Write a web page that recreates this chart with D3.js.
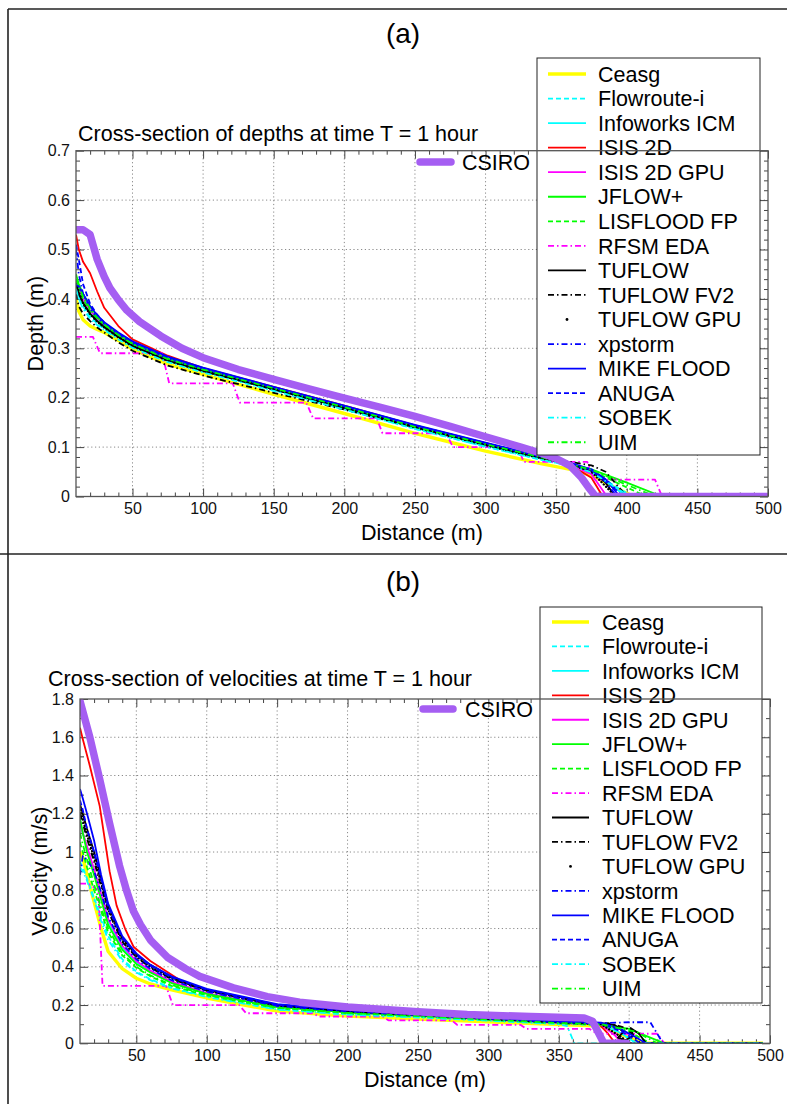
<!DOCTYPE html>
<html><head><meta charset="utf-8">
<script src="https://cdn.jsdelivr.net/npm/d3@7"></script>
<style>
html,body{margin:0;padding:0;background:#fff;}
svg{display:block;font-family:"Liberation Sans",Arial,Helvetica,sans-serif;}
</style></head><body>
<svg id="chart" width="787" height="1104"></svg>
<script>
// ---------------- DATA ----------------
const modelNames = ["Ceasg","Flowroute-i","Infoworks ICM","ISIS 2D","ISIS 2D GPU","JFLOW+","LISFLOOD FP","RFSM EDA","TUFLOW","TUFLOW FV2","TUFLOW GPU","xpstorm","MIKE FLOOD","ANUGA","SOBEK","UIM"];
const refName = "CSIRO";
const distTicks = [50,100,150,200,250,300,350,400,450,500];
const depthTicks = [0,0.1,0.2,0.3,0.4,0.5,0.6,0.7];
const velocityTicks = [0,0.2,0.4,0.6,0.8,1,1.2,1.4,1.6,1.8];

// Depth (m) vs distance (m) at T = 1 hour
const depthCSIRO = [[10,0.54],[15,0.54],[20,0.53],[25,0.48],[30,0.445],[34,0.422],[40,0.398],[46,0.377],[55,0.354],[70,0.325],[85,0.3],[100,0.281],[125,0.257],[150,0.237],[175,0.218],[200,0.199],[225,0.181],[250,0.162],[275,0.142],[300,0.121],[325,0.1],[340,0.087],[350,0.077],[360,0.062],[368,0.038],[373,0.018],[378,0],[500,0]];
const depthCeasg = [[10,0.40],[12,0.375],[15,0.358],[20,0.345],[25,0.338],[30,0.332],[40,0.316],[50,0.298],[75,0.268],[100,0.247],[150,0.207],[200,0.168],[250,0.128],[300,0.092],[340,0.066],[360,0.055],[375,0.043],[390,0.02],[405,0],[500,0]];
const depthFlowroute = [[10,0.43],[12,0.4],[15,0.385],[20,0.365],[25,0.35],[30,0.339],[40,0.32],[50,0.303],[75,0.274],[100,0.253],[150,0.215],[200,0.177],[250,0.137],[300,0.101],[340,0.074],[360,0.062],[375,0.05],[390,0.024],[404,0],[500,0]];
const depthInfoworks = [[10,0.42],[12,0.405],[15,0.39],[20,0.37],[25,0.356],[30,0.344],[40,0.324],[50,0.306],[75,0.276],[100,0.255],[150,0.217],[200,0.179],[250,0.139],[300,0.103],[340,0.076],[360,0.064],[375,0.05],[388,0.025],[400,0],[500,0]];
const depthISIS2D = [[10,0.53],[12,0.5],[15,0.475],[20,0.452],[25,0.415],[30,0.382],[40,0.345],[50,0.318],[75,0.285],[100,0.26],[150,0.222],[200,0.184],[250,0.144],[300,0.108],[340,0.079],[360,0.064],[375,0.038],[383,0],[500,0]];
const depthISIS2DGPU = [[10,0.44],[12,0.42],[15,0.4],[20,0.377],[25,0.36],[30,0.348],[40,0.328],[50,0.31],[75,0.279],[100,0.258],[150,0.22],[200,0.182],[250,0.142],[300,0.106],[340,0.078],[360,0.064],[375,0.045],[386,0],[500,0]];
const depthJFLOW = [[10,0.45],[12,0.43],[15,0.41],[20,0.385],[25,0.365],[30,0.35],[40,0.328],[50,0.31],[75,0.279],[100,0.257],[150,0.219],[200,0.181],[250,0.142],[300,0.106],[340,0.079],[360,0.066],[375,0.055],[400,0.028],[425,0],[500,0]];
const depthLISFLOOD = [[10,0.44],[12,0.42],[15,0.4],[20,0.375],[25,0.358],[30,0.346],[40,0.326],[50,0.308],[75,0.277],[100,0.256],[150,0.218],[200,0.18],[250,0.141],[300,0.105],[340,0.078],[360,0.065],[375,0.053],[395,0.025],[414,0],[500,0]];
const depthRFSM = [[10,0.323],[22,0.323],[27,0.29],[71,0.29],[76,0.229],[121,0.229],[126,0.19],[173,0.19],[178,0.158],[223,0.158],[227,0.128],[272,0.128],[277,0.1],[323,0.1],[327,0.07],[372,0.07],[377,0.034],[420,0.034],[425,0],[500,0]];
const depthTUFLOW = [[10,0.43],[12,0.41],[15,0.392],[20,0.37],[25,0.355],[30,0.343],[40,0.323],[50,0.305],[75,0.275],[100,0.254],[150,0.217],[200,0.18],[250,0.141],[300,0.105],[340,0.078],[360,0.066],[375,0.052],[385,0.028],[392,0],[500,0]];
const depthTUFLOWFV2 = [[10,0.41],[12,0.385],[15,0.37],[20,0.355],[25,0.342],[30,0.332],[40,0.312],[50,0.295],[75,0.265],[100,0.245],[150,0.21],[200,0.176],[250,0.14],[300,0.106],[340,0.08],[360,0.07],[375,0.063],[385,0.05],[400,0],[500,0]];
const depthTUFLOWGPU = [[10,0.43],[15,0.39],[20,0.369],[25,0.354],[30,0.342],[40,0.322],[50,0.304],[75,0.275],[100,0.254],[150,0.217],[200,0.179],[250,0.14],[300,0.104],[340,0.077],[360,0.065],[375,0.05],[392,0],[500,0]];
const depthXpstorm = [[10,0.5],[12,0.45],[15,0.41],[20,0.38],[25,0.362],[30,0.349],[40,0.328],[50,0.31],[75,0.279],[100,0.258],[150,0.22],[200,0.182],[250,0.143],[300,0.107],[340,0.08],[360,0.067],[375,0.053],[385,0.03],[393,0],[500,0]];
const depthMIKE = [[10,0.43],[12,0.425],[15,0.41],[20,0.385],[25,0.367],[30,0.353],[40,0.332],[50,0.314],[75,0.283],[100,0.261],[150,0.222],[200,0.184],[250,0.145],[300,0.109],[340,0.081],[360,0.068],[375,0.055],[385,0.035],[395,0],[500,0]];
const depthANUGA = [[10,0.51],[12,0.48],[15,0.43],[20,0.39],[25,0.368],[30,0.352],[40,0.33],[50,0.312],[75,0.281],[100,0.259],[150,0.221],[200,0.183],[250,0.144],[300,0.108],[340,0.08],[360,0.067],[375,0.054],[387,0.03],[397,0],[500,0]];
const depthSOBEK = [[10,0.42],[12,0.4],[15,0.38],[20,0.36],[25,0.347],[30,0.337],[40,0.318],[50,0.301],[75,0.272],[100,0.251],[150,0.214],[200,0.176],[250,0.137],[300,0.101],[340,0.074],[360,0.062],[375,0.049],[390,0.022],[402,0],[500,0]];
const depthUIM = [[10,0.44],[12,0.425],[15,0.405],[20,0.38],[25,0.362],[30,0.348],[40,0.327],[50,0.309],[75,0.278],[100,0.257],[150,0.219],[200,0.181],[250,0.141],[300,0.106],[340,0.079],[360,0.066],[375,0.054],[398,0.026],[420,0],[500,0]];

// Velocity (m/s) vs distance (m) at T = 1 hour
const velCSIRO = [[10,1.79],[17,1.6],[24,1.38],[31,1.15],[38,0.93],[43,0.8],[48,0.69],[53,0.62],[60,0.54],[72,0.45],[85,0.39],[95,0.35],[119,0.29],[143,0.244],[166,0.215],[200,0.19],[250,0.165],[285,0.15],[330,0.14],[368,0.132],[374,0.115],[382,0],[398,0]];
const velCeasg = [[10,1.0],[12,0.97],[15,0.88],[20,0.74],[25,0.6],[30,0.48],[40,0.39],[50,0.34],[60,0.31],[75,0.28],[100,0.237],[150,0.168],[200,0.142],[250,0.127],[300,0.112],[350,0.098],[380,0.09],[400,0.03],[410,0],[495,0]];
const velFlowroute = [[10,0.95],[12,0.92],[15,0.86],[20,0.76],[25,0.66],[30,0.56],[40,0.44],[50,0.375],[60,0.335],[75,0.29],[100,0.245],[150,0.178],[200,0.152],[250,0.137],[300,0.12],[350,0.102],[380,0.095],[395,0.05],[405,0],[495,0]];
const velInfoworks = [[10,1.15],[12,1.1],[15,1.02],[20,0.9],[25,0.77],[30,0.64],[40,0.5],[50,0.425],[60,0.375],[75,0.318],[100,0.26],[150,0.19],[200,0.162],[250,0.144],[300,0.126],[350,0.107],[380,0.1],[395,0.05],[405,0],[495,0]];
const velISIS2D = [[10,1.65],[12,1.59],[17,1.45],[24,1.24],[31,0.9],[36,0.72],[42,0.6],[48,0.505],[60,0.43],[83,0.32],[100,0.28],[119,0.25],[150,0.2],[200,0.17],[250,0.15],[300,0.13],[350,0.112],[378,0.105],[385,0.05],[390,0],[495,0]];
const velISIS2DGPU = [[10,1.15],[12,1.1],[15,1.03],[20,0.91],[25,0.78],[30,0.65],[40,0.51],[50,0.43],[60,0.38],[75,0.322],[100,0.262],[150,0.19],[200,0.162],[250,0.143],[300,0.124],[350,0.106],[380,0.098],[390,0.04],[395,0],[495,0]];
const velJFLOW = [[10,1.18],[12,1.1],[15,1.0],[20,0.88],[25,0.75],[30,0.62],[40,0.49],[50,0.415],[60,0.37],[75,0.315],[100,0.258],[150,0.19],[200,0.162],[250,0.145],[300,0.127],[350,0.108],[380,0.1],[400,0.075],[415,0.03],[425,0],[495,0]];
const velLISFLOOD = [[10,1.05],[12,1.0],[15,0.92],[20,0.8],[25,0.69],[30,0.58],[40,0.46],[50,0.395],[60,0.35],[75,0.3],[100,0.25],[150,0.183],[200,0.156],[250,0.14],[300,0.122],[350,0.104],[380,0.097],[400,0.06],[415,0],[495,0]];
const velRFSM = [[10,0.835],[16,0.835],[23,0.8],[26,0.3],[71,0.3],[76,0.2],[123,0.2],[128,0.157],[175,0.157],[180,0.14],[225,0.14],[229,0.12],[274,0.12],[278,0.096],[323,0.096],[327,0.075],[372,0.075],[377,0.05],[420,0.05],[425,0],[495,0]];
const velTUFLOW = [[10,1.25],[12,1.2],[15,1.12],[20,1.0],[25,0.86],[30,0.72],[40,0.55],[50,0.465],[60,0.41],[75,0.345],[100,0.28],[150,0.2],[200,0.17],[250,0.15],[300,0.13],[350,0.112],[380,0.105],[390,0.095],[396,0.06],[392,0.03],[397,0.015],[403,0.04],[401,0.08],[407,0.05],[412,0],[495,0]];
const velTUFLOWFV2 = [[10,1.2],[12,1.15],[15,1.07],[20,0.95],[25,0.82],[30,0.69],[40,0.53],[50,0.45],[60,0.395],[75,0.335],[100,0.275],[150,0.198],[200,0.168],[250,0.148],[300,0.128],[350,0.11],[385,0.105],[398,0.08],[408,0],[495,0]];
const velTUFLOWGPU = [[10,1.22],[12,1.17],[15,1.09],[20,0.97],[25,0.84],[30,0.7],[40,0.54],[50,0.455],[60,0.4],[75,0.34],[100,0.277],[150,0.198],[200,0.168],[250,0.148],[300,0.128],[350,0.11],[380,0.1],[395,0.03],[400,0],[495,0]];
const velXpstorm = [[10,0.88],[12,0.98],[15,0.96],[20,0.9],[25,0.79],[30,0.66],[40,0.52],[50,0.44],[60,0.39],[75,0.33],[100,0.27],[150,0.195],[200,0.166],[250,0.147],[300,0.128],[350,0.11],[380,0.105],[400,0.11],[415,0.11],[424,0],[495,0]];
const velMIKE = [[10,1.33],[12,1.28],[15,1.2],[20,1.06],[25,0.88],[30,0.73],[40,0.56],[50,0.47],[60,0.41],[75,0.35],[100,0.285],[150,0.205],[200,0.175],[250,0.155],[300,0.135],[350,0.116],[380,0.108],[395,0.07],[405,0.03],[412,0],[495,0]];
const velANUGA = [[10,1.27],[12,1.22],[15,1.12],[20,1.0],[25,0.86],[30,0.71],[40,0.55],[50,0.46],[60,0.405],[75,0.345],[100,0.28],[150,0.2],[200,0.172],[250,0.152],[300,0.132],[350,0.113],[380,0.105],[395,0.06],[408,0],[495,0]];
const velSOBEK = [[10,0.92],[12,0.9],[15,0.85],[20,0.75],[25,0.64],[30,0.54],[40,0.43],[50,0.37],[60,0.33],[75,0.287],[100,0.242],[150,0.176],[200,0.15],[250,0.135],[300,0.118],[350,0.1],[356,0.09],[361,0],[495,0]];
const velUIM = [[10,1.1],[12,1.04],[15,0.96],[20,0.83],[25,0.71],[30,0.6],[40,0.47],[50,0.4],[60,0.355],[75,0.305],[100,0.253],[150,0.186],[200,0.158],[250,0.142],[300,0.124],[350,0.106],[380,0.1],[405,0.06],[420,0],[495,0]];

const depthSeries = [depthCeasg,depthFlowroute,depthInfoworks,depthISIS2D,depthISIS2DGPU,depthJFLOW,depthLISFLOOD,depthRFSM,depthTUFLOW,depthTUFLOWFV2,depthTUFLOWGPU,depthXpstorm,depthMIKE,depthANUGA,depthSOBEK,depthUIM];
const velSeries = [velCeasg,velFlowroute,velInfoworks,velISIS2D,velISIS2DGPU,velJFLOW,velLISFLOOD,velRFSM,velTUFLOW,velTUFLOWFV2,velTUFLOWGPU,velXpstorm,velMIKE,velANUGA,velSOBEK,velUIM];

// ---------------- STYLES ----------------
const DASH = "5,3", DASHDOT = "6,3,1.5,3", DOTS = "0.1,3.2";
const styles = {
  "Ceasg":{c:"#ffff00",w:3.4,d:null},
  "Flowroute-i":{c:"#00ffff",w:1.8,d:DASH},
  "Infoworks ICM":{c:"#00ffff",w:1.8,d:null},
  "ISIS 2D":{c:"#ff0000",w:1.8,d:null},
  "ISIS 2D GPU":{c:"#ff00ff",w:1.8,d:null},
  "JFLOW+":{c:"#00ff00",w:1.8,d:null},
  "LISFLOOD FP":{c:"#00ff00",w:1.8,d:DASH},
  "RFSM EDA":{c:"#ff00ff",w:1.8,d:DASHDOT},
  "TUFLOW":{c:"#000000",w:1.8,d:null},
  "TUFLOW FV2":{c:"#000000",w:1.8,d:DASHDOT},
  "TUFLOW GPU":{c:"#000000",w:2.3,d:DOTS,dots:true},
  "xpstorm":{c:"#0000ff",w:1.8,d:DASHDOT},
  "MIKE FLOOD":{c:"#0000ff",w:1.8,d:null},
  "ANUGA":{c:"#0000ff",w:1.8,d:DASH},
  "SOBEK":{c:"#00ffff",w:1.8,d:DASHDOT},
  "UIM":{c:"#00ff00",w:1.8,d:DASHDOT}
};
const purple = "#a55ef2";
const FONT = 21.5;

const svg = d3.select("#chart");

// outer frames
const frame = svg.append("g").attr("stroke","#222").attr("stroke-width",1.6).attr("fill","none");
frame.append("line").attr("x1",8).attr("y1",9).attr("x2",787).attr("y2",9);
frame.append("line").attr("x1",8).attr("y1",9).attr("x2",8).attr("y2",1104);
frame.append("line").attr("x1",0).attr("y1",554).attr("x2",787).attr("y2",554);

function fmt(d){ return String(+d.toFixed(1)); }

function drawPanel(p){
  const x = d3.scaleLinear().domain([10,500]).range([p.left,p.right]);
  const y = d3.scaleLinear().domain([0,p.ymax]).range([p.bottom,p.top]);
  const g = svg.append("g");

  // panel label & title
  g.append("text").attr("x",p.labelX).attr("y",p.labelY).attr("text-anchor","middle")
    .attr("font-size",28).text(p.label);
  g.append("text").attr("x",p.titleX).attr("y",p.titleY).attr("font-size",FONT).text(p.title);

  // grid
  const grid = g.append("g").attr("stroke","#8a8a8a").attr("stroke-width",1).attr("stroke-dasharray","1.2,2.6");
  distTicks.filter(v=>v<500).forEach(v=>{
    grid.append("line").attr("x1",x(v)).attr("x2",x(v)).attr("y1",p.top).attr("y2",p.bottom);
  });
  p.yTicks.filter(v=>v>0 && v<p.ymax).forEach(v=>{
    grid.append("line").attr("x1",p.left).attr("x2",p.right).attr("y1",y(v)).attr("y2",y(v));
  });

  // axes (ticks inward)
  const minorX = d3.range(20,500,10).filter(v=>v%50!==0);
  const minorY = d3.range(p.yMinorStep, p.ymax, p.yMinorStep).filter(v=>{
    const r = v/p.yMajorStep; return Math.abs(r-Math.round(r))>1e-6; });
  const tickCol = "#444";
  function styleAxis(sel){ sel.select(".domain").remove(); sel.selectAll("line").attr("stroke",tickCol).attr("stroke-width",1);
    sel.selectAll("text").attr("font-size",16).attr("fill","#111").attr("font-family","'Liberation Sans',Arial,sans-serif"); }
  g.append("g").attr("transform",`translate(0,${p.bottom})`)
    .call(d3.axisBottom(x).tickValues(distTicks).tickSizeInner(-8).tickSizeOuter(0).tickPadding(6).tickFormat(d3.format("d"))).call(styleAxis);
  g.append("g").attr("transform",`translate(0,${p.bottom})`)
    .call(d3.axisBottom(x).tickValues(minorX).tickSizeInner(-4).tickSizeOuter(0).tickFormat("")).call(styleAxis);
  g.append("g").attr("transform",`translate(0,${p.top})`)
    .call(d3.axisTop(x).tickValues(distTicks).tickSizeInner(-8).tickSizeOuter(0).tickFormat("")).call(styleAxis);
  g.append("g").attr("transform",`translate(0,${p.top})`)
    .call(d3.axisTop(x).tickValues(minorX).tickSizeInner(-4).tickSizeOuter(0).tickFormat("")).call(styleAxis);
  g.append("g").attr("transform",`translate(${p.left},0)`)
    .call(d3.axisLeft(y).tickValues(p.yTicks).tickSizeInner(-8).tickSizeOuter(0).tickPadding(6).tickFormat(fmt)).call(styleAxis);
  g.append("g").attr("transform",`translate(${p.left},0)`)
    .call(d3.axisLeft(y).tickValues(minorY).tickSizeInner(-4).tickSizeOuter(0).tickFormat("")).call(styleAxis);
  g.append("g").attr("transform",`translate(${p.right},0)`)
    .call(d3.axisRight(y).tickValues(p.yTicks).tickSizeInner(-8).tickSizeOuter(0).tickFormat("")).call(styleAxis);
  g.append("g").attr("transform",`translate(${p.right},0)`)
    .call(d3.axisRight(y).tickValues(minorY).tickSizeInner(-4).tickSizeOuter(0).tickFormat("")).call(styleAxis);

  // axis labels
  g.append("text").attr("x",(p.left+p.right)/2).attr("y",p.xLabelY).attr("text-anchor","middle")
    .attr("font-size",FONT).text("Distance (m)");
  g.append("text").attr("transform",`translate(${p.yLabelX},${(p.top+p.bottom)/2}) rotate(-90)`)
    .attr("text-anchor","middle").attr("font-size",FONT).text(p.yLabel);

  // curves
  const clipId = "clip"+p.label.replace(/\W/g,"");
  svg.append("clipPath").attr("id",clipId).append("rect")
    .attr("x",p.left).attr("y",p.top).attr("width",p.right-p.left).attr("height",p.bottom-p.top);
  const line = d3.line().x(d=>x(d[0])).y(d=>y(d[1]));
  const cg = g.append("g").attr("clip-path",`url(#${clipId})`).attr("fill","none");
  modelNames.forEach((m,i)=>{
    const s = styles[m];
    cg.append("path").datum(p.series[i]).attr("d",line)
      .attr("stroke",s.c).attr("stroke-width",s.w)
      .attr("stroke-dasharray",s.d)
      .attr("stroke-linecap",s.dots?"round":"butt")
      .attr("stroke-linejoin","round");
  });
  cg.append("path").datum(p.ref).attr("d",line).attr("stroke",purple).attr("stroke-width",7.5)
    .attr("stroke-linejoin","round").attr("stroke-linecap","round");

  // CSIRO legend
  g.append("line").attr("x1",p.refLeg.x1).attr("x2",p.refLeg.x2).attr("y1",p.refLeg.y).attr("y2",p.refLeg.y)
    .attr("stroke",purple).attr("stroke-width",7.5).attr("stroke-linecap","round");
  g.append("text").attr("x",p.refLeg.tx).attr("y",p.refLeg.y).attr("dy","0.36em").attr("font-size",FONT).text(refName);

  // main legend
  const L = p.leg;
  const lg = g.append("g");
  lg.append("rect").attr("x",L.left).attr("y",L.top).attr("width",L.right-L.left).attr("height",L.bottom-L.top)
    .attr("fill","#fff").attr("stroke","#222").attr("stroke-width",1);
  modelNames.forEach((m,i)=>{
    const s = styles[m];
    const yy = L.first + i*L.step;
    if(s.dots){
      lg.append("circle").attr("cx",(L.s1+L.s2)/2).attr("cy",yy).attr("r",1.4).attr("fill","#000");
    } else {
      lg.append("line").attr("x1",L.s1).attr("x2",L.s2).attr("y1",yy).attr("y2",yy)
        .attr("stroke",s.c).attr("stroke-width",m==="Ceasg"?3.5:1.8).attr("stroke-dasharray",s.d);
    }
    lg.append("text").attr("x",L.tx).attr("y",yy).attr("dy","0.36em").attr("font-size",FONT).text(m);
  });

  // plot box (drawn on top)
  g.append("rect").attr("x",p.left).attr("y",p.top).attr("width",p.right-p.left).attr("height",p.bottom-p.top)
    .attr("fill","none").attr("stroke","#555").attr("stroke-width",1.3);
}

drawPanel({
  label:"(a)", labelX:403, labelY:43,
  title:"Cross-section of depths at time T = 1 hour", titleX:78, titleY:141,
  left:76, right:768, top:150.7, bottom:496.5, ymax:0.7,
  yTicks:depthTicks, yMajorStep:0.1, yMinorStep:0.02,
  yLabel:"Depth (m)", yLabelX:43, xLabelY:540,
  series:depthSeries, ref:depthCSIRO,
  refLeg:{x1:420,x2:451,y:162,tx:462},
  leg:{left:537,right:760,top:58,bottom:455,first:74,step:24.55,s1:548,s2:586,tx:598}
});
drawPanel({
  label:"(b)", labelX:403, labelY:591,
  title:"Cross-section of velocities at time T = 1 hour", titleX:48, titleY:686,
  left:80, right:770, top:699, bottom:1043.3, ymax:1.8,
  yTicks:velocityTicks, yMajorStep:0.2, yMinorStep:0.1,
  yLabel:"Velocity (m/s)", yLabelX:47, xLabelY:1087,
  series:velSeries, ref:velCSIRO,
  refLeg:{x1:423,x2:453,y:709,tx:465},
  leg:{left:540,right:762,top:607,bottom:1003,first:622,step:24.44,s1:552,s2:589,tx:602}
});
</script>
</body></html>
